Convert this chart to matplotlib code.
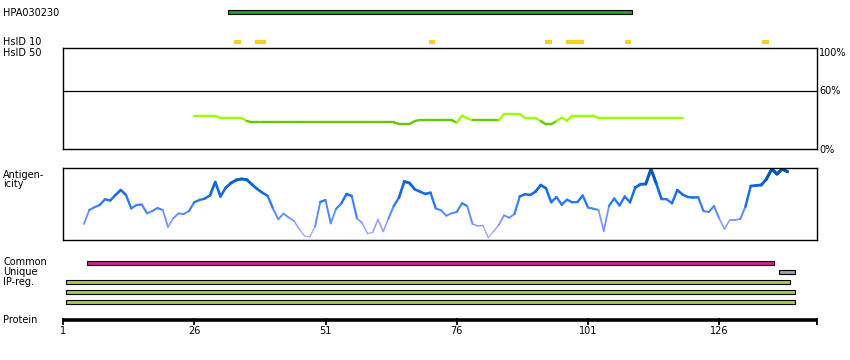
"""
Protein feature overview: antigen region, HsID identity track,
antigenicity profile and region bars along the protein sequence.
"""

import numpy as np
import matplotlib
matplotlib.use("Agg")
import matplotlib.pyplot as plt
from matplotlib.collections import LineCollection
from matplotlib.colors import LinearSegmentedColormap

plt.rcParams.update({"font.family": "DejaVu Sans", "font.size": 7})

W, H = 850, 360
PX_RES = 5.25          # pixels per residue
X0 = 63                # pixel of residue 1
X1 = 817               # right edge of the panels

# ---- data ----
antigen_name = "HPA030230"
antigen_span = (32.4, 109.4)

hsid10_marks = [(33.5, 34.9), (37.5, 39.7), (70.8, 71.95), (92.8, 94.1),
                (96.8, 100.2), (108.0, 109.2), (134.1, 135.5)]

hsid50_start = 26
hsid50_values = [
    34.0, 34.0, 34.0, 34.0, 34.0, 31.9, 31.9, 31.9, 31.9, 31.9,
    28.8, 27.5, 27.5, 27.5, 27.5, 27.5, 27.5, 27.5, 27.5, 27.5,
    27.5, 27.5, 27.5, 27.5, 27.5, 27.5, 27.5, 27.5, 27.5, 27.5,
    27.5, 27.5, 27.5, 27.5, 27.5, 27.5, 27.5, 27.5, 27.5, 25.7,
    25.7, 25.7, 28.8, 29.8, 29.8, 29.8, 29.8, 29.8, 29.8, 29.8,
    27.1, 34.3, 31.6, 29.5, 29.5, 29.5, 29.5, 29.5, 29.5, 36.0,
    36.0, 36.0, 36.0, 31.9, 31.9, 31.9, 28.8, 25.4, 25.4, 28.8,
    32.2, 29.1, 34.3, 34.3, 34.3, 34.3, 34.3, 31.9, 31.9, 31.9,
    31.9, 31.9, 31.9, 31.9, 31.9, 31.9, 31.9, 31.9, 31.9, 31.9,
    31.9, 31.9, 31.9, 31.9,
]
hsid50_threshold = 30

antigenicity_start = 5
antigenicity = [
    22.3, 41.8, 45.7, 48.8, 56.8, 55.1, 62.8, 69.7, 62.8, 43.9,
    48.8, 49.5, 37.2, 40.4, 44.6, 41.8, 18.1, 30.3, 37.0, 36.3,
    40.4, 52.6, 55.8, 57.7, 62.1, 80.9, 60.7, 72.9, 79.5, 83.7,
    85.1, 84.1, 77.4, 71.1, 65.8, 61.4, 43.9, 28.9, 36.8, 31.4,
    26.5, 15.3, 5.6, 4.2, 18.5, 53.0, 55.8, 23.3, 43.2, 50.9,
    64.2, 61.4, 30.0, 23.7, 8.8, 10.7, 28.6, 11.9, 30.0, 47.4,
    59.3, 81.6, 79.5, 70.7, 67.4, 64.2, 66.0, 44.1, 41.4, 33.9,
    37.2, 39.1, 51.2, 47.4, 22.3, 19.5, 20.2, 3.3, 11.9, 20.9,
    34.4, 31.1, 36.3, 60.7, 63.9, 62.8, 67.4, 76.7, 72.1, 52.6,
    60.0, 49.2, 56.3, 52.6, 53.0, 62.1, 45.3, 43.7, 41.8, 12.6,
    47.4, 57.9, 48.1, 60.7, 52.6, 73.2, 77.7, 78.1, 99.0, 78.8,
    57.2, 56.8, 51.2, 69.7, 63.5, 60.0, 59.3, 59.6, 40.4, 39.1,
    47.4, 30.0, 15.3, 27.9, 27.9, 29.3, 46.7, 75.3, 76.0, 76.7,
    85.1, 99.0, 92.1, 99.0, 95.3,
]

common_span = (5.6, 136.4)
unique_span = (137.4, 140.5)
ipreg_spans = [(1.5, 139.5), (1.5, 140.5), (1.5, 140.5)]

protein_ticks = [1, 26, 51, 76, 101, 126]


def res(px):
    return 1 + (px - X0) / PX_RES


def fig_rect(left, top, right, bottom):
    return [left / W, 1 - bottom / H, (right - left) / W, (bottom - top) / H]


def label(fig, px, py, s, ha="left"):
    fig.text(px / W, 1 - py / H, s, ha=ha, va="center", fontsize=7)


def colored_line(ax, x, y, colors, widths):
    pts = np.column_stack([x, y]).reshape(-1, 1, 2)
    segs = np.concatenate([pts[:-1], pts[1:]], axis=1)
    lc = LineCollection(segs, colors=colors, linewidths=widths,
                        capstyle="round", joinstyle="round")
    ax.add_collection(lc)


def main():
    fig = plt.figure(figsize=(W / 100, H / 100), dpi=100)
    xmax = res(X1)

    # HsID 50 panel
    ax_id = fig.add_axes(fig_rect(X0, 48.3, X1, 149))
    ax_id.set_xlim(1, xmax)
    ax_id.set_ylim(0, 103.6)
    ax_id.axhline(60, color="black", lw=0.9)
    hx = hsid50_start + np.arange(len(hsid50_values))
    hy = np.array(hsid50_values)
    mids = (hy[:-1] + hy[1:]) / 2
    cols = ["#99ff00" if m >= hsid50_threshold else "#66c800" for m in mids]
    colored_line(ax_id, hx, hy, cols, 1.7)

    # Antigenicity panel
    ax_ag = fig.add_axes(fig_rect(X0, 168.3, X1, 240))
    ax_ag.set_xlim(1, xmax)
    ax_ag.set_ylim(0, 100)
    ax_x = antigenicity_start + np.arange(len(antigenicity))
    ay = np.array(antigenicity)
    amid = (ay[:-1] + ay[1:]) / 2 / 100
    cmap = LinearSegmentedColormap.from_list(
        "ag", ["#b8adff", "#8f9dff", "#4d88ff", "#1a6ff0", "#0a62d8", "#0050a0"])
    colored_line(ax_ag, ax_x, ay, cmap(amid), 0.8 + 1.6 * amid)

    for a in (ax_id, ax_ag):
        a.set_xticks([])
        a.set_yticks([])
        for sp in a.spines.values():
            sp.set_linewidth(1.0)

    # overlay in residue / pixel coordinates
    ov = fig.add_axes([0, 0, 1, 1])
    ov.set_xlim(res(0), res(W))
    ov.set_ylim(H, 0)
    ov.axis("off")
    ov.patch.set_alpha(0)

    def bar(span, yc, color, h=4.0, edge="black"):
        ov.barh(yc, span[1] - span[0], left=span[0], height=h, color=color,
                edgecolor=edge, linewidth=0.8 if edge != "none" else 0)

    bar(antigen_span, 12.2, "#1ea01e", h=4.3)
    for m in hsid10_marks:
        bar(m, 41.8, "#ffcc22", h=4.5, edge="none")
    bar(common_span, 262.5, "#cc2299")
    bar(unique_span, 272.3, "#a0a0a0")
    for i, sp in enumerate(ipreg_spans):
        bar(sp, 282.3 + 10 * i, "#a4cc55")

    # protein axis
    ov.hlines(319.5, 1, xmax, color="black", lw=2.6)
    ov.vlines(protein_ticks + [xmax], 318, 324.5, color="black", lw=1.3)
    for t in protein_ticks:
        ov.text(t, 331.5, str(t), ha="center", va="center", fontsize=7)

    # labels
    label(fig, 3, 12.5, antigen_name)
    label(fig, 3, 42, "HsID 10")
    label(fig, 3, 52.5, "HsID 50")
    label(fig, 3, 175, "Antigen-")
    label(fig, 3, 184, "icity")
    label(fig, 3, 262, "Common")
    label(fig, 3, 272, "Unique")
    label(fig, 3, 282, "IP-reg.")
    label(fig, 3, 320, "Protein")
    label(fig, 819, 52.5, "100%")
    label(fig, 819, 91, "60%")
    label(fig, 819, 149.5, "0%")

    fig.savefig("out.png", dpi=100)


if __name__ == "__main__":
    main()
